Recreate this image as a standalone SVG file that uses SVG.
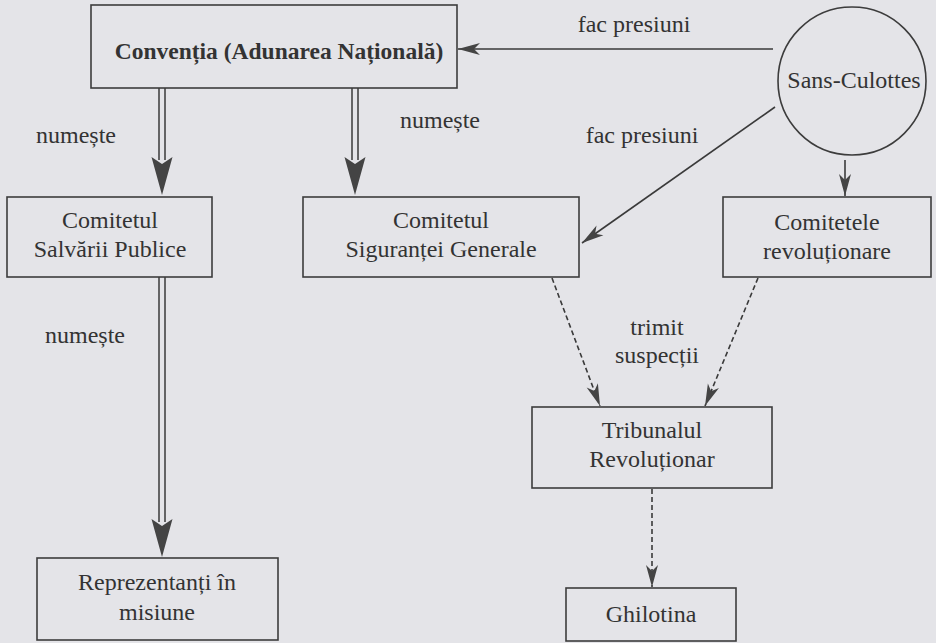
<svg xmlns="http://www.w3.org/2000/svg" width="936" height="643" viewBox="0 0 936 643">
<defs>
<style>
.bg{fill:#e4e4e8}
.box{fill:none;stroke:#3c3c3c;stroke-width:1.6}
text{font-family:"Liberation Serif","Tinos","Times New Roman","DejaVu Serif",serif;font-size:24px;fill:#333;text-anchor:middle}
.b{font-weight:bold;font-size:23.5px}
.ln{fill:none;stroke:#3a3a3a;stroke-width:1.6}
.dl{fill:none;stroke:#3a3a3a;stroke-width:1.5}
.ds{fill:none;stroke:#3a3a3a;stroke-width:1.6;stroke-dasharray:5 3}
.hd{fill:#444}
</style>
<marker id="ah" markerUnits="userSpaceOnUse" markerWidth="30" markerHeight="20" refX="0" refY="0" viewBox="-26 -10 30 20" orient="auto" overflow="visible">
<path d="M0,0 L-22,-6 L-16,0 L-22,6 Z" fill="#444"/>
</marker>
<path id="bighead" d="M0,0 L-10.5,-38 L0,-31 L10.5,-38 Z"/>
</defs>
<rect class="bg" x="0" y="0" width="936" height="643"/>

<g id="connectors">
<g id="c-conv-salv">
<path class="dl" d="M159,88 V160 M165,88 V160"/>
<use class="hd" href="#bighead" x="162" y="195"/>
</g>
<g id="c-conv-sig">
<path class="dl" d="M352,88 V160 M358,88 V160"/>
<use class="hd" href="#bighead" x="355" y="195"/>
</g>
<g id="c-salv-rep">
<path class="dl" d="M159,277 V522 M165,277 V522"/>
<use class="hd" href="#bighead" x="162" y="557"/>
</g>
<path id="c-sans-conv" class="ln" d="M773,49 L458,49" marker-end="url(#ah)"/>
<path id="c-sans-sig" class="ln" d="M775,107 L582,243" marker-end="url(#ah)"/>
<path id="c-sans-rev" class="ln" d="M845,160 L845,196" marker-end="url(#ah)"/>
<path id="c-sig-trib" class="ds" d="M552,278 L600,406" marker-end="url(#ah)"/>
<path id="c-rev-trib" class="ds" d="M758,278 L705,406" marker-end="url(#ah)"/>
<path id="c-trib-ghil" class="ds" d="M652,489 L652,587" marker-end="url(#ah)"/>
<text x="634" y="32">fac presiuni</text>
<text x="642" y="143">fac presiuni</text>
<text x="76" y="143">numește</text>
<text x="440" y="128">numește</text>
<text x="85" y="343">numește</text>
<text x="657" y="335">trimit</text>
<text x="657" y="363">suspecții</text>
</g>

<g id="conventia">
<rect class="box" x="91" y="5" width="366" height="83"/>
<text class="b" x="279" y="59">Convenția (Adunarea Națională)</text>
</g>
<g id="sans-culottes">
<circle class="box" cx="852" cy="81" r="74"/>
<text x="854" y="88">Sans-Culottes</text>
</g>
<g id="salvarii">
<rect class="box" x="7" y="197" width="205" height="80"/>
<text x="110" y="228">Comitetul</text>
<text x="110" y="257">Salvării Publice</text>
</g>
<g id="sigurantei">
<rect class="box" x="303" y="197" width="276" height="80"/>
<text x="441" y="228">Comitetul</text>
<text x="441" y="257">Siguranței Generale</text>
</g>
<g id="revolutionare">
<rect class="box" x="723" y="197" width="208" height="80"/>
<text x="827" y="230">Comitetele</text>
<text x="827" y="259">revoluționare</text>
</g>
<g id="reprezentanti">
<rect class="box" x="37" y="558" width="241" height="82"/>
<text x="157" y="590">Reprezentanți în</text>
<text x="157" y="620">misiune</text>
</g>
<g id="tribunal">
<rect class="box" x="532" y="407" width="240" height="81"/>
<text x="652" y="438">Tribunalul</text>
<text x="652" y="467">Revoluționar</text>
</g>
<g id="ghilotina">
<rect class="box" x="566" y="588" width="170" height="53"/>
<text x="651" y="622">Ghilotina</text>
</g>
</svg>
